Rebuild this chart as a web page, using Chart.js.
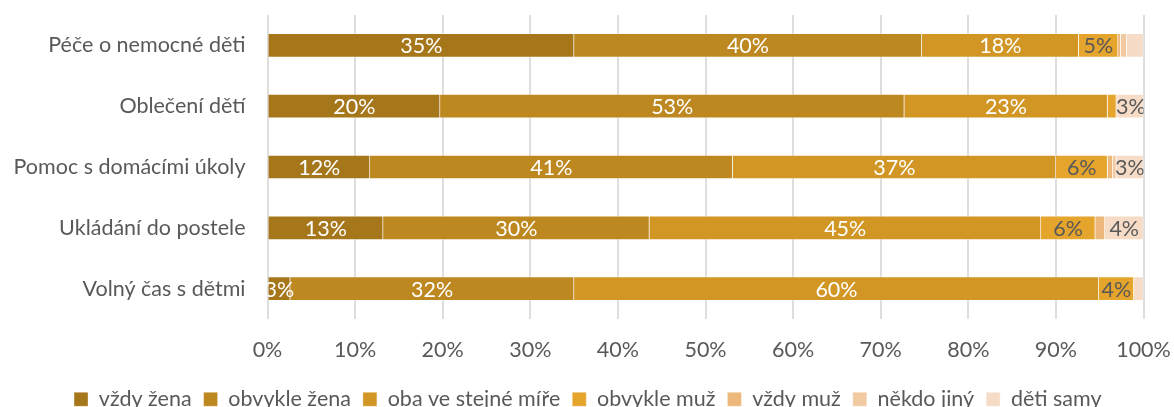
<!DOCTYPE html>
<html>
<head>
<meta charset="utf-8">
<script src="https://cdn.jsdelivr.net/npm/chart.js@4"></script>
<style>
  html, body { margin: 0; padding: 0; background: #fff; overflow: hidden; }
  #wrap { width: 1174px; height: 407px; position: relative; overflow: hidden; }
</style>
</head>
<body>
<div id="wrap"><canvas id="chart" width="1174" height="420"></canvas></div>
<script>
// Kdo se stará o děti - podíly odpovědí (%)
const categories = ['Péče o nemocné děti', 'Oblečení dětí', 'Pomoc s domácími úkoly', 'Ukládání do postele', 'Volný čas s dětmi'];
const seriesNames = ['vždy žena', 'obvykle žena', 'oba ve stejné míře', 'obvykle muž', 'vždy muž', 'někdo jiný', 'děti samy'];

const vzdyZena      = [35.0, 19.7, 11.7, 13.2, 2.6];
const obvykleZena   = [39.7, 53.0, 41.4, 30.4, 32.4];
const obaStejne     = [17.9, 23.2, 36.9, 44.7, 59.9];
const obvykleMuz    = [4.5, 1.0, 5.9, 6.2, 4.0];
const vzdyMuz       = [0.3, 0.0, 0.6, 1.1, 0.0];
const nekdoJiny     = [0.7, 0.2, 0.4, 0.0, 0.0];
const detiSamy      = [1.9, 2.9, 3.1, 4.4, 1.1];

const xTicks = [0, 10, 20, 30, 40, 50, 60, 70, 80, 90, 100];

const colors = ['#A6761B', '#BE8821', '#D29625', '#E5A42B', '#ECB87C', '#F2CAA2', '#F6DCC6'];
const labelColors = ['#ffffff', '#ffffff', '#ffffff', '#595959', '#595959', '#595959', '#595959'];
const allSeries = [vzdyZena, obvykleZena, obaStejne, obvykleMuz, vzdyMuz, nekdoJiny, detiSamy];

const FONT = 'Lato';
const FSIZE = 21.5;

// popisky hodnot uvnitř segmentů
const segmentLabels = {
    id: 'segmentLabels',
    afterLayout(chart) {
        // legenda je v originále posunutá trochu doprava
        chart.legend.left += 16;
        chart.legend.right += 16;
    },
    afterDatasetsDraw(chart) {
        const ctx = chart.ctx;
        const area = chart.chartArea;
        ctx.save();
        ctx.beginPath();
        ctx.rect(area.left, area.top, area.right - area.left, area.bottom - area.top);
        ctx.clip();
        ctx.font = FSIZE + 'px ' + FONT;
        ctx.textAlign = 'center';
        ctx.textBaseline = 'middle';
        chart.data.datasets.forEach((ds, i) => {
            const meta = chart.getDatasetMeta(i);
            meta.data.forEach((bar, j) => {
                const v = Math.round(ds.data[j]);
                if (v < 3) return;
                ctx.fillStyle = labelColors[i];
                ctx.fillText(v + '%', (bar.x + bar.base) / 2, bar.y + 1);
            });
        });
        ctx.restore();
    }
};

new Chart(document.getElementById('chart').getContext('2d'), {
    type: 'bar',
    data: {
        labels: categories,
        datasets: seriesNames.map((name, i) => ({
            label: name,
            data: allSeries[i],
            backgroundColor: colors[i],
            borderColor: 'rgba(255,255,255,0.35)',
            borderWidth: 1,
            barThickness: 24
        }))
    },
    options: {
        indexAxis: 'y',
        responsive: false,
        animation: false,
        layout: { padding: { top: 15, right: 30.5, bottom: 0, left: 0 } },
        plugins: {
            legend: {
                position: 'bottom',
                labels: {
                    font: { family: FONT, size: FSIZE },
                    color: '#595959',
                    boxWidth: 14,
                    boxHeight: 14,
                    padding: 12
                }
            },
            tooltip: { enabled: false }
        },
        scales: {
            x: {
                stacked: true,
                min: 0,
                max: 100,
                afterBuildTicks: scale => { scale.ticks = xTicks.map(v => ({ value: v })); },
                afterFit: scale => {
                    scale.height = 57.5;
                    scale.paddingLeft = 0;
                    scale.paddingRight = 0;
                },
                ticks: {
                    callback: v => v + '%',
                    font: { family: FONT, size: FSIZE },
                    color: '#595959',
                    padding: 18
                },
                grid: { color: '#DEDEDE', lineWidth: 2, drawTicks: false },
                border: { display: false }
            },
            y: {
                stacked: true,
                afterFit: scale => {
                    scale.width = 267.5;
                    scale.paddingTop = 0;
                    scale.paddingBottom = 0;
                },
                ticks: {
                    font: { family: FONT, size: FSIZE },
                    color: '#595959',
                    padding: 22
                },
                grid: { display: false, drawTicks: false },
                border: { display: false }
            }
        }
    },
    plugins: [segmentLabels]
});
</script>
</body>
</html>
